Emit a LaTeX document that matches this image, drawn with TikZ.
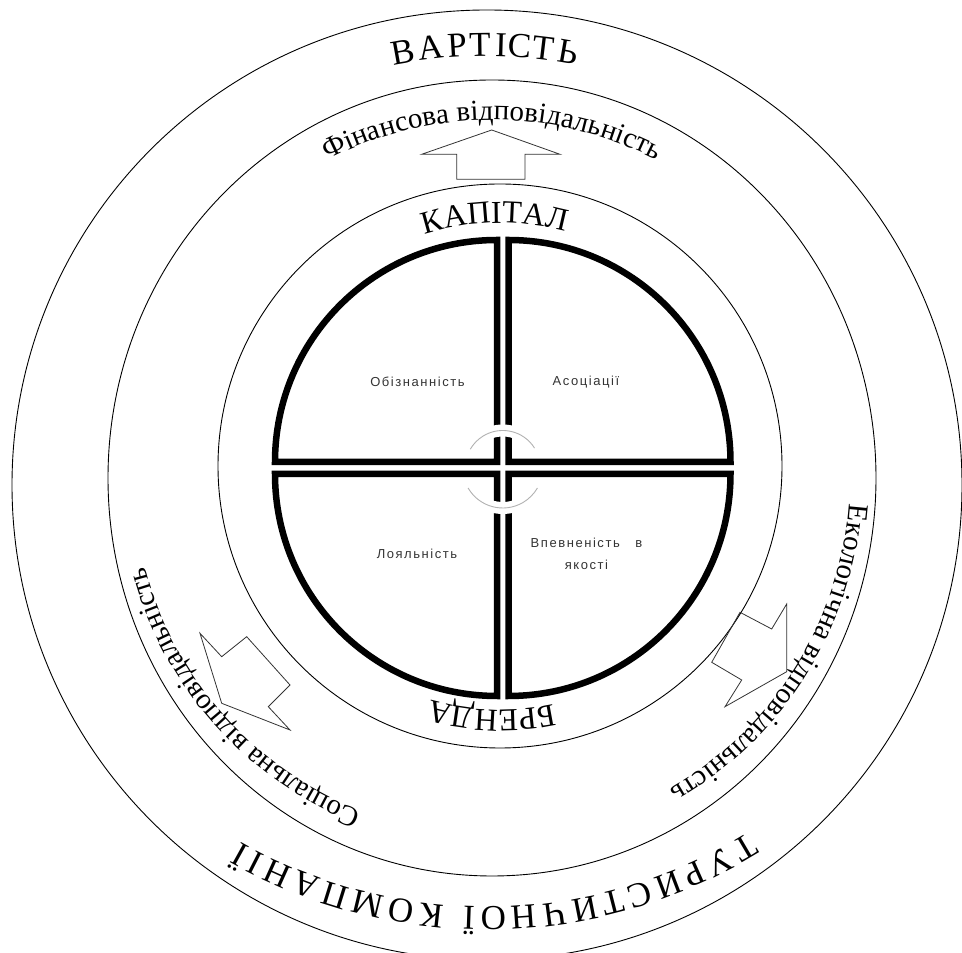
\documentclass[tikz,border=0pt]{standalone}
\usepackage{fontspec}
\setmainfont{Liberation Serif}
\newfontfamily\qfont[LetterSpace=12]{Liberation Sans}
\usetikzlibrary{decorations.text,calc}
\begin{document}
\begin{tikzpicture}[x=1pt,y=1pt,
  ring/.style={draw=black, line width=0.9pt},
  quad/.style={draw=black, line width=6.5pt, line join=miter},
  arrowline/.style={draw=black!80, line width=0.8pt, line join=miter},
  qlabel/.style={font=\qfont\fontsize{13}{22}\selectfont, text=black!80, align=center, inner sep=0pt},
  bigletter/.style={font=\fontsize{35}{35}\selectfont, inner sep=0pt, anchor=base},
  greyarc/.style={draw=black!30, line width=0.9pt},
  knock/.style={draw=white, line width=12pt},
]
\useasboundingbox (0,0) rectangle (962,953);
\coordinate (cout) at (487,468);
\coordinate (cmid) at (492,475);
\coordinate (cin) at (500,487);
\coordinate (cq) at (502.75,485);
\coordinate (cresp) at (492,475);
\coordinate (cvart) at (487,437);
\coordinate (ctur) at (487,544);

% rings
\draw[ring] (cout) circle[radius=475pt];
\draw[ring] (cmid) ellipse[x radius=384pt, y radius=398pt];
\draw[ring] (cin) circle[radius=282pt];

% quadrants
\draw[quad] (497,491) -- (275,491) arc[start angle=180,end angle=90,radius=222pt] -- cycle;
\draw[quad] (508.5,491) -- (508.5,713) arc[start angle=90,end angle=0,radius=222pt] -- cycle;
\draw[quad] (497,479) -- (497,257) arc[start angle=270,end angle=180,radius=222pt] -- cycle;
\draw[quad] (508.5,479) -- (730.5,479) arc[start angle=0,end angle=-90,radius=222pt] -- cycle;

% small grey arcs at the centre
\draw[knock] ($(cq)+(32:37.5pt)$) arc[start angle=32,end angle=150,radius=37.5pt];
\draw[greyarc] ($(cq)+(32:37.5pt)$) arc[start angle=32,end angle=150,radius=37.5pt];
\draw[knock] ($(cq)+(210:40pt)$) arc[start angle=210,end angle=330,radius=40pt];
\draw[greyarc] ($(cq)+(210:40pt)$) arc[start angle=210,end angle=330,radius=40pt];

% quadrant labels
\node[qlabel] (q1) at (417.5,571) {Обізнанність};
\node[qlabel] (q2) at (586,571) {Асоціації};
\node[qlabel] (q3) at (417,399) {Лояльність};
\node[qlabel] (q4) at (586.5,399) {Впевненість\ \ \ в\\якості};

% arrows
\draw[arrowline] (491.7,823) -- (560,798.7) -- (525,798.7) -- (525,773.7) -- (456.7,773.7) -- (456.7,798.7) -- (421.7,798.7) -- cycle;
\draw[arrowline] (221.7,249.7) -- (200,319.7) -- (221.7,296.3) -- (246.7,316.3) -- (290,268) -- (268.3,246.3) -- (290,223) -- cycle;
\draw[arrowline] (786.7,281.3) -- (786.7,349) -- (771.7,324) -- (740,340.7) -- (711.7,290.7) -- (741.7,273) -- (725,246.3) -- cycle;

% curved texts
\path[decorate, decoration={text along path, text align=center,
  text={|\fontsize{29}{29}\selectfont|Фінансова відповідальність}}]
  ($(cresp)+(130:358pt)$) arc[start angle=130,end angle=50,radius=358pt];
\path[decorate, decoration={text along path, text align=center,
  text={|\fontsize{29}{29}\selectfont|Соціальна відповідальність}}]
  ($(cresp)+(261.5:358pt)$) arc[start angle=261.5,end angle=181.5,radius=358pt];
\path[decorate, decoration={text along path, text align=center,
  text={|\fontsize{29}{29}\selectfont|Екологічна відповідальність}}]
  ($(cresp)+(7.8:358pt)$) arc[start angle=7.8,end angle=-72.2,radius=358pt];
\path[decorate, decoration={text along path, text align=center,
  text={|\fontsize{32}{32}\selectfont|КАПІТАЛ}}]
  ($(cin)+(131.2:243pt)$) arc[start angle=131.2,end angle=51.2,radius=243pt];
\path[decorate, decoration={text along path, text align=center,
  text={|\fontsize{32}{32}\selectfont|БРЕНДА}}]
  ($(cin)+(-51.9:244pt)$) arc[start angle=-51.9,end angle=-131.9,radius=244pt];

% spaced capitals
\foreach \ch/\a [count=\i] in {В/100.33, А/96.83, Р/93.59, Т/90.85, І/88.30, С/85.98, Т/83.17, Ь/80.04}
  \node[bigletter, rotate=\a-90] (v\i) at ($(cvart)+(\a:460pt)$) {\ch};
\foreach \ch/\a [count=\i] in {Т/-59.5, У/-62.77, Р/-65.94, И/-69.11, С/-72.49, Т/-75.66, И/-78.93, Ч/-82.37, Н/-85.81, О/-89.29, Ї/-92.03, К/-96.23, О/-99.71, М/-103.52, П/-107.33, А/-110.81, Н/-114.29, І/-117.03, Ї/-119.03}
  \node[bigletter, rotate=\a-90] (t\i) at ($(ctur)+(\a:498pt)$) {\ch};
\end{tikzpicture}
\end{document}
